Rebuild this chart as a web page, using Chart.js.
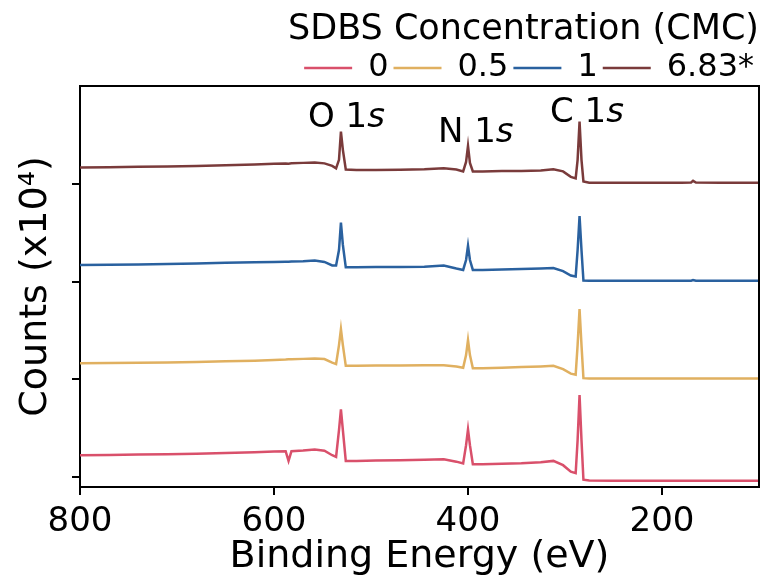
<!DOCTYPE html>
<html>
<head>
<meta charset="utf-8">
<script src="https://cdn.jsdelivr.net/npm/chart.js@4.4.1/dist/chart.umd.min.js"></script>
<style>
  html, body { margin: 0; padding: 0; background: #fff; }
  #wrap { width: 760px; height: 579px; }
</style>
</head>
<body>
<div id="wrap"><canvas id="xps"></canvas></div>
<script>
// Binding energy (eV) of every sampled point, shared by all spectra
const energy = [800, 770, 740, 710, 680, 650, 620, 600, 588, 585, 582, 570, 558, 548, 540, 536, 533, 531, 529, 526,
    515, 495, 470, 445, 425, 412, 405, 402, 400, 398, 395, 385, 365, 345, 325, 312, 302, 294, 289, 287,
    285, 283, 281, 275, 250, 225, 200, 180, 170, 168, 165, 140, 120, 100];

// Counts (x10^4), stacked spectra as plotted
const cmc0 = [1.225, 1.227, 1.232, 1.235, 1.241, 1.248, 1.256, 1.263, 1.266, 1.167, 1.266, 1.273, 1.284, 1.271, 1.225, 1.208, 1.481, 1.693, 1.481, 1.167,
    1.167, 1.171, 1.174, 1.179, 1.184, 1.159, 1.140, 1.328, 1.488, 1.328, 1.133, 1.133, 1.138, 1.143, 1.154, 1.167, 1.123, 1.056, 1.041, 1.379,
    1.839, 1.379, 0.974, 0.966, 0.964, 0.964, 0.964, 0.964, 0.964, 0.964, 0.964, 0.964, 0.964, 0.965];
const cmc05 = [2.164, 2.167, 2.170, 2.174, 2.179, 2.185, 2.192, 2.198, 2.203, 2.205, 2.205, 2.210, 2.215, 2.208, 2.172, 2.157, 2.351, 2.515, 2.351, 2.139,
    2.139, 2.141, 2.143, 2.146, 2.146, 2.131, 2.119, 2.249, 2.402, 2.249, 2.113, 2.113, 2.119, 2.126, 2.133, 2.139, 2.105, 2.059, 2.049, 2.351,
    2.720, 2.351, 2.013, 2.010, 2.010, 2.010, 2.010, 2.010, 2.010, 2.010, 2.010, 2.010, 2.010, 2.010];
const cmc1 = [3.170, 3.172, 3.175, 3.180, 3.185, 3.192, 3.198, 3.201, 3.204, 3.204, 3.206, 3.209, 3.216, 3.201, 3.165, 3.165, 3.323, 3.603, 3.375, 3.146,
    3.146, 3.149, 3.149, 3.151, 3.165, 3.134, 3.119, 3.221, 3.367, 3.221, 3.119, 3.119, 3.124, 3.129, 3.134, 3.139, 3.108, 3.062, 3.052, 3.323,
    3.671, 3.323, 3.011, 3.009, 3.009, 3.009, 3.009, 3.009, 3.009, 3.016, 3.009, 3.009, 3.009, 3.009];
const cmc683 = [4.166, 4.170, 4.175, 4.178, 4.183, 4.190, 4.197, 4.204, 4.207, 4.206, 4.209, 4.214, 4.219, 4.209, 4.183, 4.158, 4.245, 4.534, 4.347, 4.147,
    4.142, 4.142, 4.144, 4.149, 4.158, 4.147, 4.127, 4.224, 4.388, 4.214, 4.127, 4.127, 4.130, 4.132, 4.137, 4.149, 4.127, 4.071, 4.055, 4.245,
    4.637, 4.245, 4.025, 4.012, 4.012, 4.012, 4.012, 4.012, 4.014, 4.030, 4.013, 4.012, 4.012, 4.011];

const seriesNames = ['0', '0.5', '1', '6.83*'];
const xTicks = [800, 600, 400, 200];
const yTicks = [1, 2, 3, 4];

// Peak names and where their labels sit (eV, counts)
const peakNames = ['O', 'N', 'C'];
const peakLabelX = [565, 431, 315.5];
const peakLabelY = [4.582, 4.429, 4.637];

const FONT = '"DejaVu Sans"';
Chart.defaults.font.family = FONT;
Chart.defaults.color = '#000';

const toPoints = vals => energy.map((e, i) => ({ x: e, y: vals[i] }));
const colors = ['#d9506b', '#e0b060', '#2a619f', '#7a3b3b'];

// top/right frame + peak labels
const framePlugin = {
    id: 'frame',
    afterDatasetsDraw(chart) {
        const { ctx, chartArea: a } = chart;
        ctx.save();
        ctx.strokeStyle = '#000';
        ctx.lineWidth = 2;
        ctx.beginPath();
        ctx.moveTo(a.left, a.top);
        ctx.lineTo(a.right, a.top);
        ctx.lineTo(a.right, a.bottom);
        ctx.stroke();

        const xs = chart.scales.x, ys = chart.scales.y;
        ctx.fillStyle = '#000';
        ctx.textAlign = 'left';
        ctx.textBaseline = 'alphabetic';
        peakNames.forEach((name, i) => {
            let px = xs.getPixelForValue(peakLabelX[i]);
            const py = ys.getPixelForValue(peakLabelY[i]);
            ctx.font = '34px ' + FONT;
            ctx.fillText(name + ' 1', px, py);
            px += ctx.measureText(name + ' 1').width;
            ctx.font = 'italic 34px ' + FONT;
            ctx.fillText('s', px, py);
        });
        ctx.restore();
    }
};

const axisGrid = { drawOnChartArea: false, drawTicks: true, tickLength: 8, color: '#000', lineWidth: 2 };
const axisBorder = { color: '#000', width: 2 };

new Chart(document.getElementById('xps').getContext('2d'), {
    type: 'line',
    data: {
        datasets: [cmc0, cmc05, cmc1, cmc683].map((vals, i) => ({
            label: seriesNames[i],
            data: toPoints(vals),
            borderColor: colors[i],
            backgroundColor: colors[i],
            borderWidth: 2.5,
            pointRadius: 0,
            tension: 0,
            fill: false
        }))
    },
    options: {
        responsive: true,
        maintainAspectRatio: false,
        devicePixelRatio: 1,
        animation: false,
        layout: { padding: { top: 0, right: 1, bottom: 0, left: 0 } },
        plugins: {
            tooltip: { enabled: false },
            legend: {
                position: 'top',
                align: 'end',
                maxHeight: 86,
                title: {
                    display: true,
                    text: 'SDBS Concentration (CMC)',
                    position: 'end',
                    color: '#000',
                    font: { size: 35, lineHeight: 1 },
                    padding: { top: 12, bottom: 0 }
                },
                labels: {
                    usePointStyle: true,
                    pointStyle: 'line',
                    pointStyleWidth: 48,
                    padding: 5,
                    color: '#000',
                    font: { size: 32 }
                }
            }
        },
        scales: {
            x: {
                type: 'linear',
                reverse: true,
                min: 100,
                max: 800,
                afterBuildTicks: s => { s.ticks = xTicks.map(v => ({ value: v })); },
                afterFit: s => { s.height = 92; },
                ticks: { color: '#000', font: { size: 34 }, padding: 7, maxRotation: 0, autoSkip: false },
                grid: axisGrid,
                border: axisBorder,
                title: { display: true, text: 'Binding Energy (eV)', color: '#000', font: { size: 38 }, padding: { top: 0, bottom: -1 } }
            },
            y: {
                type: 'linear',
                min: 0.9,
                max: 5.0,
                afterBuildTicks: s => { s.ticks = yTicks.map(v => ({ value: v })); },
                afterFit: s => { s.width = 80; },
                ticks: { display: false },
                grid: axisGrid,
                border: axisBorder,
                title: { display: true, text: 'Counts (x10⁴)', color: '#000', font: { size: 38 }, padding: { top: 13, bottom: 0 } }
            }
        }
    },
    plugins: [framePlugin]
});
</script>
</body>
</html>
